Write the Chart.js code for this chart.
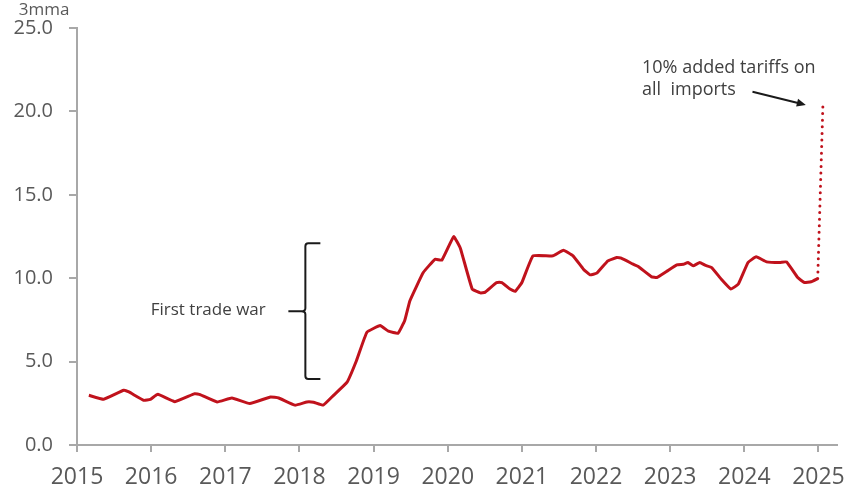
<!DOCTYPE html>
<html>
<head>
<meta charset="utf-8">
<script src="https://cdn.jsdelivr.net/npm/chart.js@4.4.1/dist/chart.umd.min.js"></script>
<style>
  html, body { margin: 0; padding: 0; background: #fff; }
  #wrap { width: 844px; height: 487px; position: relative; }
</style>
</head>
<body>
<div id="wrap"><canvas id="tariffChart"></canvas></div>
<script>
// 3mma series, one entry per turning point (decimal years)
const dates = [
    2015.16, 2015.36, 2015.63, 2015.70, 2015.90, 2015.99, 2016.09, 2016.32, 2016.59, 2016.66,
    2016.89, 2017.09, 2017.33, 2017.61, 2017.72, 2017.94, 2018.10, 2018.19, 2018.32, 2018.46,
    2018.64, 2018.77, 2018.91, 2019.09, 2019.20, 2019.33, 2019.42, 2019.49, 2019.67, 2019.83,
    2019.92, 2020.08, 2020.17, 2020.33, 2020.44, 2020.50, 2020.66, 2020.73, 2020.84, 2020.91,
    2021.00, 2021.15, 2021.42, 2021.56, 2021.69, 2021.83, 2021.92, 2022.01, 2022.16, 2022.28,
    2022.34, 2022.50, 2022.57, 2022.75, 2022.82, 2022.95, 2023.09, 2023.18, 2023.24, 2023.31,
    2023.40, 2023.47, 2023.56, 2023.69, 2023.82, 2023.92, 2024.05, 2024.16, 2024.30, 2024.48,
    2024.57, 2024.72, 2024.81, 2024.90, 2024.99
];
const rate = [
    2.98, 2.74, 3.28, 3.18, 2.68, 2.74, 3.04, 2.60, 3.08, 3.02,
    2.58, 2.82, 2.49, 2.88, 2.82, 2.39, 2.58, 2.56, 2.39, 2.98,
    3.75, 5.07, 6.76, 7.16, 6.82, 6.70, 7.46, 8.65, 10.34, 11.14,
    11.08, 12.49, 11.80, 9.35, 9.12, 9.15, 9.74, 9.74, 9.35, 9.21,
    9.74, 11.34, 11.34, 11.68, 11.34, 10.54, 10.20, 10.30, 11.04, 11.24,
    11.20, 10.84, 10.70, 10.08, 10.04, 10.40, 10.80, 10.84, 10.94, 10.74,
    10.94, 10.78, 10.64, 9.94, 9.35, 9.65, 10.94, 11.28, 10.98, 10.94,
    10.98, 10.04, 9.74, 9.79, 9.98
];

// jump after the 10% tariff on all imports
const tariffDates = [2024.99, 2025.06];
const tariffRate = [9.98, 20.4];

const yearTicks = [2015, 2016, 2017, 2018, 2019, 2020, 2021, 2022, 2023, 2024, 2025];
const valueTicks = [0, 5, 10, 15, 20, 25];

const RED = "#c0121c";
const AXIS = "#a8a8a8";
const LABEL = "#595959";

Chart.defaults.font.family = "'Open Sans', sans-serif";

// unit label, brace, arrow and notes
const notes = {
    id: "notes",
    afterDraw(chart) {
        const { ctx, scales: { x, y } } = chart;
        ctx.save();

        ctx.fillStyle = LABEL;
        ctx.font = "17px 'Open Sans'";
        ctx.textAlign = "center";
        ctx.textBaseline = "middle";
        ctx.fillText("3mma", 44, 10);

        // brace for the first trade war
        const bx = x.getPixelForValue(2018.08);
        const top = y.getPixelForValue(12.1);
        const bot = y.getPixelForValue(3.95);
        const mid = (top + bot) / 2;
        ctx.strokeStyle = "#1a1a1a";
        ctx.lineWidth = 2;
        ctx.lineJoin = "round";
        ctx.beginPath();
        ctx.moveTo(bx + 15, top);
        ctx.lineTo(bx + 3, top);
        ctx.quadraticCurveTo(bx, top, bx, top + 3);
        ctx.lineTo(bx, mid - 3);
        ctx.quadraticCurveTo(bx, mid, bx - 4, mid);
        ctx.quadraticCurveTo(bx, mid, bx, mid + 3);
        ctx.lineTo(bx, bot - 3);
        ctx.quadraticCurveTo(bx, bot, bx + 3, bot);
        ctx.lineTo(bx + 15, bot);
        ctx.moveTo(bx - 4, mid);
        ctx.lineTo(bx - 17, mid);
        ctx.stroke();

        ctx.fillStyle = "#404040";
        ctx.font = "17px 'Open Sans'";
        ctx.textAlign = "center";
        ctx.fillText("First trade war", x.getPixelForValue(2016.77), mid - 1);

        // note on the tariff jump
        ctx.textAlign = "left";
        ctx.textBaseline = "alphabetic";
        ctx.fillStyle = "#404040";
        ctx.font = "18px 'Open Sans'";
        const tx = x.getPixelForValue(2022.62);
        ctx.fillText("10% added tariffs on", tx, 73);
        ctx.fillText("all  imports", tx, 95);

        const ax0 = x.getPixelForValue(2024.11), ay0 = y.getPixelForValue(21.18);
        const ax1 = x.getPixelForValue(2024.83), ay1 = y.getPixelForValue(20.39);
        const ang = Math.atan2(ay1 - ay0, ax1 - ax0);
        ctx.strokeStyle = "#1a1a1a";
        ctx.lineWidth = 2;
        ctx.beginPath();
        ctx.moveTo(ax0, ay0);
        ctx.lineTo(ax1 - 6 * Math.cos(ang), ay1 - 6 * Math.sin(ang));
        ctx.stroke();
        ctx.fillStyle = "#1a1a1a";
        ctx.beginPath();
        ctx.moveTo(ax1, ay1);
        ctx.lineTo(ax1 - 9 * Math.cos(ang) + 4 * Math.sin(ang), ay1 - 9 * Math.sin(ang) - 4 * Math.cos(ang));
        ctx.lineTo(ax1 - 9 * Math.cos(ang) - 4 * Math.sin(ang), ay1 - 9 * Math.sin(ang) + 4 * Math.cos(ang));
        ctx.closePath();
        ctx.fill();

        ctx.restore();
    }
};

new Chart(document.getElementById("tariffChart"), {
    type: "line",
    data: {
        datasets: [
            {
                data: dates.map((d, i) => ({ x: d, y: rate[i] })),
                borderColor: RED,
                borderWidth: 3,
                pointRadius: 0,
                tension: 0.1
            },
            {
                data: tariffDates.map((d, i) => ({ x: d, y: tariffRate[i] })),
                borderColor: RED,
                borderWidth: 3,
                borderDash: [0, 6.6],
                borderCapStyle: "round",
                pointRadius: 0
            }
        ]
    },
    options: {
        responsive: true,
        maintainAspectRatio: false,
        animation: false,
        layout: { padding: { left: 0, right: 7, top: 27, bottom: 0 } },
        plugins: {
            legend: { display: false },
            tooltip: { enabled: false }
        },
        scales: {
            x: {
                type: "linear",
                min: 2015,
                max: 2025.25,
                afterBuildTicks: s => { s.ticks = yearTicks.map(v => ({ value: v })); },
                afterFit: s => {
                    s.height = 42;
                    s.paddingLeft = 0;
                    s.paddingRight = 0;
                },
                border: { display: true, color: AXIS, width: 2 },
                grid: { display: true, drawOnChartArea: false, drawTicks: true, tickLength: 7, color: AXIS, lineWidth: 2 },
                ticks: {
                    color: LABEL,
                    padding: 12,
                    maxRotation: 0,
                    font: { size: 23 },
                    callback: v => String(v)
                }
            },
            y: {
                min: 0,
                max: 25,
                afterBuildTicks: s => { s.ticks = valueTicks.map(v => ({ value: v })); },
                afterFit: s => { s.width = 77; },
                border: { display: true, color: AXIS, width: 2 },
                grid: { display: true, drawOnChartArea: false, drawTicks: true, tickLength: 8, color: AXIS, lineWidth: 2 },
                ticks: {
                    color: LABEL,
                    padding: 16,
                    font: { size: 20 },
                    callback: v => v.toFixed(1)
                }
            }
        }
    },
    plugins: [notes]
});
</script>
</body>
</html>
